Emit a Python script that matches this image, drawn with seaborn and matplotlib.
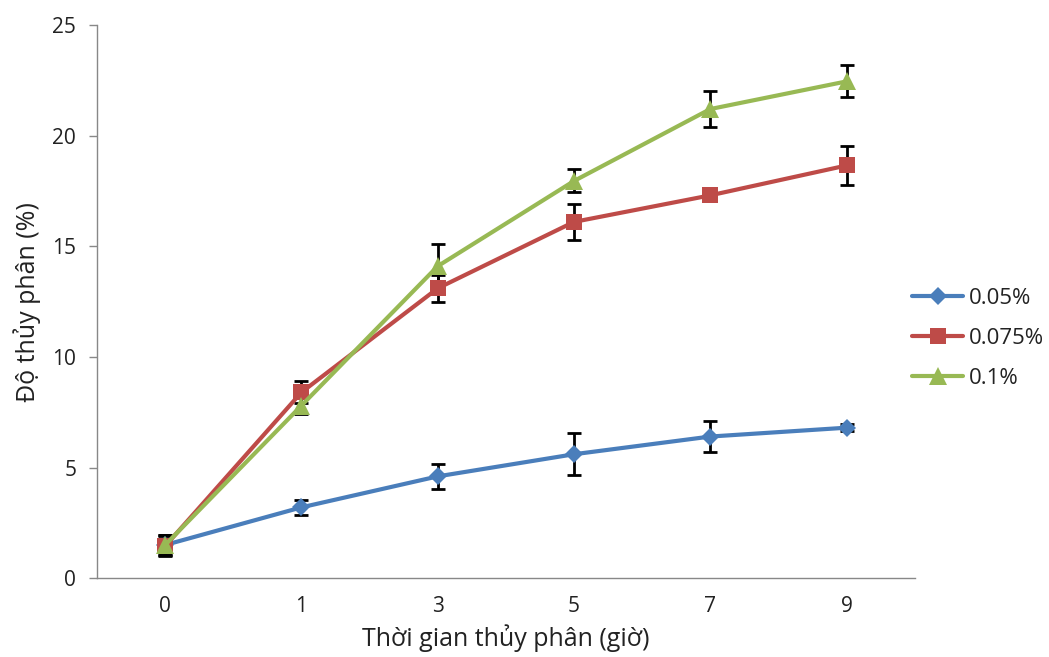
import numpy as np
import pandas as pd
import matplotlib
matplotlib.use("Agg")
import matplotlib.pyplot as plt
import seaborn as sns
from matplotlib.lines import Line2D

# Hydrolysis time (hours) shown as evenly spaced categories
hours = ["0", "1", "3", "5", "7", "9"]

# Degree of hydrolysis (%) for each enzyme concentration
conc_005 = [1.5, 3.2, 4.6, 5.6, 6.4, 6.8]
conc_0075 = [1.45, 8.4, 13.1, 16.1, 17.3, 18.65]
conc_01 = [1.5, 7.8, 14.1, 17.95, 21.2, 22.45]

# Standard deviations
err_005 = [0.45, 0.35, 0.55, 0.95, 0.68, 0.15]
err_0075 = [0.45, 0.5, 0.6, 0.82, 0.2, 0.9]
err_01 = [0.45, 0.4, 1.0, 0.52, 0.8, 0.72]

labels = ["0.05%", "0.075%", "0.1%"]
colors = ["#4A7EBB", "#BE4B48", "#98B954"]
markers = ["D", "s", "^"]
sizes = [9, 12, 13]

sns.set_theme(style="white")
plt.rcParams["font.family"] = ["Open Sans", "DejaVu Sans"]

pos = np.arange(len(hours))
frames = []
for lab, vals, errs in zip(labels, [conc_005, conc_0075, conc_01],
                           [err_005, err_0075, err_01]):
    frames.append(pd.DataFrame({"pos": pos, "value": vals, "err": errs, "conc": lab}))
df = pd.concat(frames, ignore_index=True)

fig = plt.figure(figsize=(10.49, 6.57), dpi=100)
ax = fig.add_axes([0.0925, 0.12, 0.7795, 0.842])

# Error bars first so the markers sit on top
for lab in labels:
    sub = df[df["conc"] == lab]
    ax.errorbar(sub["pos"], sub["value"], yerr=sub["err"], fmt="none",
                ecolor="black", elinewidth=2, capsize=5, capthick=2, zorder=2)

sns.lineplot(data=df, x="pos", y="value", hue="conc", style="conc",
             palette=dict(zip(labels, colors)),
             markers=dict(zip(labels, markers)), dashes=False,
             linewidth=3, ax=ax, legend=False, zorder=3)

# Per-series marker sizes
for line, ms in zip(ax.lines[-3:], sizes):
    line.set_markersize(ms)
    line.set_markeredgewidth(0)

ax.set_xlim(-0.5, 5.5)
ax.set_ylim(0, 25)
ax.set_yticks([0, 5, 10, 15, 20, 25])
ax.set_xticks(pos)
ax.set_xticklabels(hours)
# Ticks between categories on the x axis
ax.set_xticks(np.arange(-0.5, 5.6, 1), minor=True)
ax.tick_params(axis="x", which="major", length=0, pad=13, labelsize=15, labelcolor="#222222")
ax.tick_params(axis="x", which="minor", length=7, width=1, color="#888888", direction="out")
ax.tick_params(axis="y", length=6, width=1, color="#888888", direction="out",
               labelsize=15, pad=9, labelcolor="#222222", left=True)

for s in ["top", "right"]:
    ax.spines[s].set_visible(False)
for s in ["left", "bottom"]:
    ax.spines[s].set_color("#888888")
    ax.spines[s].set_linewidth(1)

ax.set_xlabel("Thời gian thủy phân (giờ)", fontsize=18, color="#222222", labelpad=5)
ax.set_ylabel("Độ thủy phân (%)", fontsize=18, color="#222222", labelpad=8)

handles = [Line2D([0], [0], color=c, marker=m, markersize=ms, markeredgewidth=0, linewidth=3)
           for c, m, ms in zip(colors, markers, sizes)]
fig.legend(handles, labels, loc="center left", bbox_to_anchor=(0.861, 0.485),
           frameon=False, fontsize=16, handlelength=2.3, handletextpad=0.25,
           labelspacing=0.85, borderaxespad=0.0, labelcolor="#222222")

fig.savefig("out.png", dpi=100)
